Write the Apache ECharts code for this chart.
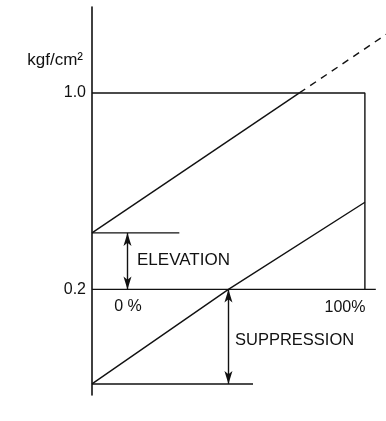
<!DOCTYPE html>
<html>
<head>
<meta charset="utf-8">
<script src="https://cdn.jsdelivr.net/npm/echarts@6/dist/echarts.min.js"></script>
<style>
  html, body { margin: 0; padding: 0; background: #fff; }
  #chart { width: 386px; height: 421px; }
</style>
</head>
<body>
<div id="chart"></div>
<script>
// output (% of span) vs pressure (kgf/cm2)
const yTicks = [0.2, 1.0]
const rangeBox = [[0, 1.0], [100, 1.0], [100, 0.2]]
const baseLine = [[0, 0.2], [104, 0.2]]
const elevatedLine = [[0, 0.43], [76, 1.0]]
const elevatedExtension = [[76, 1.0], [108, 1.24]]
const suppressedLine = [[0, -0.185], [50, 0.2], [100, 0.555]]
const elevationZero = [[0, 0.43], [32, 0.43]]
const suppressionZero = [[0, -0.185], [59, -0.185]]
const elevationArrow = [[13, 0.43], [13, 0.2]]
const suppressionArrow = [[50, 0.2], [50, -0.185]]
const notes = [
  { text: '0 %', at: [13.2, 0.131], align: 'center', size: 16 },
  { text: '100%', at: [92.7, 0.127], align: 'center', size: 16 },
  { text: 'ELEVATION', at: [16.5, 0.318], align: 'left', size: 17 },
  { text: 'SUPPRESSION', at: [52.4, -0.008], align: 'left', size: 16.5 }
]

const ink = '#111'
const chart = echarts.init(document.getElementById('chart'))

const plain = (data, extra) => Object.assign({
  type: 'line',
  data: data,
  symbol: 'none',
  silent: true,
  clip: false,
  lineStyle: { color: ink, width: 1.4 }
}, extra || {})

const arrow = (pair) => ({
  type: 'line',
  data: [],
  silent: true,
  markLine: {
    silent: true,
    symbol: ['arrow', 'arrow'],
    symbolSize: [6, 13],
    label: { show: false },
    lineStyle: { color: ink, width: 1.4, type: 'solid' },
    data: [[{ coord: pair[0] }, { coord: pair[1] }]]
  }
})

const option = {
  animation: false,
  backgroundColor: '#fff',
  textStyle: { fontFamily: 'Liberation Sans, Arial, sans-serif' },
  grid: { left: 92, right: 2, top: 7, bottom: 26 },
  xAxis: {
    type: 'value',
    min: 0,
    max: 107,
    show: false
  },
  yAxis: {
    type: 'value',
    min: -0.23,
    max: 1.35,
    name: 'kgf/cm²',
    nameLocation: 'end',
    nameGap: -53,
    nameTextStyle: {
      color: ink,
      fontSize: 17,
      align: 'right',
      verticalAlign: 'middle',
      padding: [0, 9, 0, 0]
    },
    axisLine: { show: true, onZero: false, lineStyle: { color: ink, width: 1.6 } },
    axisTick: { show: false },
    splitLine: { show: false },
    axisLabel: {
      customValues: yTicks,
      color: ink,
      fontSize: 16,
      margin: 6,
      formatter: (v) => v.toFixed(1)
    }
  },
  series: [
    plain(rangeBox),
    plain(baseLine),
    plain(elevatedLine),
    plain(elevatedExtension, { lineStyle: { color: ink, width: 1.4, type: [7, 6] } }),
    plain(suppressedLine),
    plain(elevationZero),
    plain(suppressionZero),
    arrow(elevationArrow),
    arrow(suppressionArrow),
    {
      type: 'scatter',
      silent: true,
      clip: false,
      symbolSize: 0,
      itemStyle: { opacity: 1 },
      data: notes.map((n) => ({
        value: n.at,
        label: {
          show: true,
          position: 'inside',
          formatter: n.text,
          align: n.align,
          verticalAlign: 'middle',
          color: ink,
          opacity: 1,
          fontSize: n.size
        }
      }))
    }
  ]
}

chart.setOption(option)
window.addEventListener('resize', () => chart.resize())
</script>
</body>
</html>
